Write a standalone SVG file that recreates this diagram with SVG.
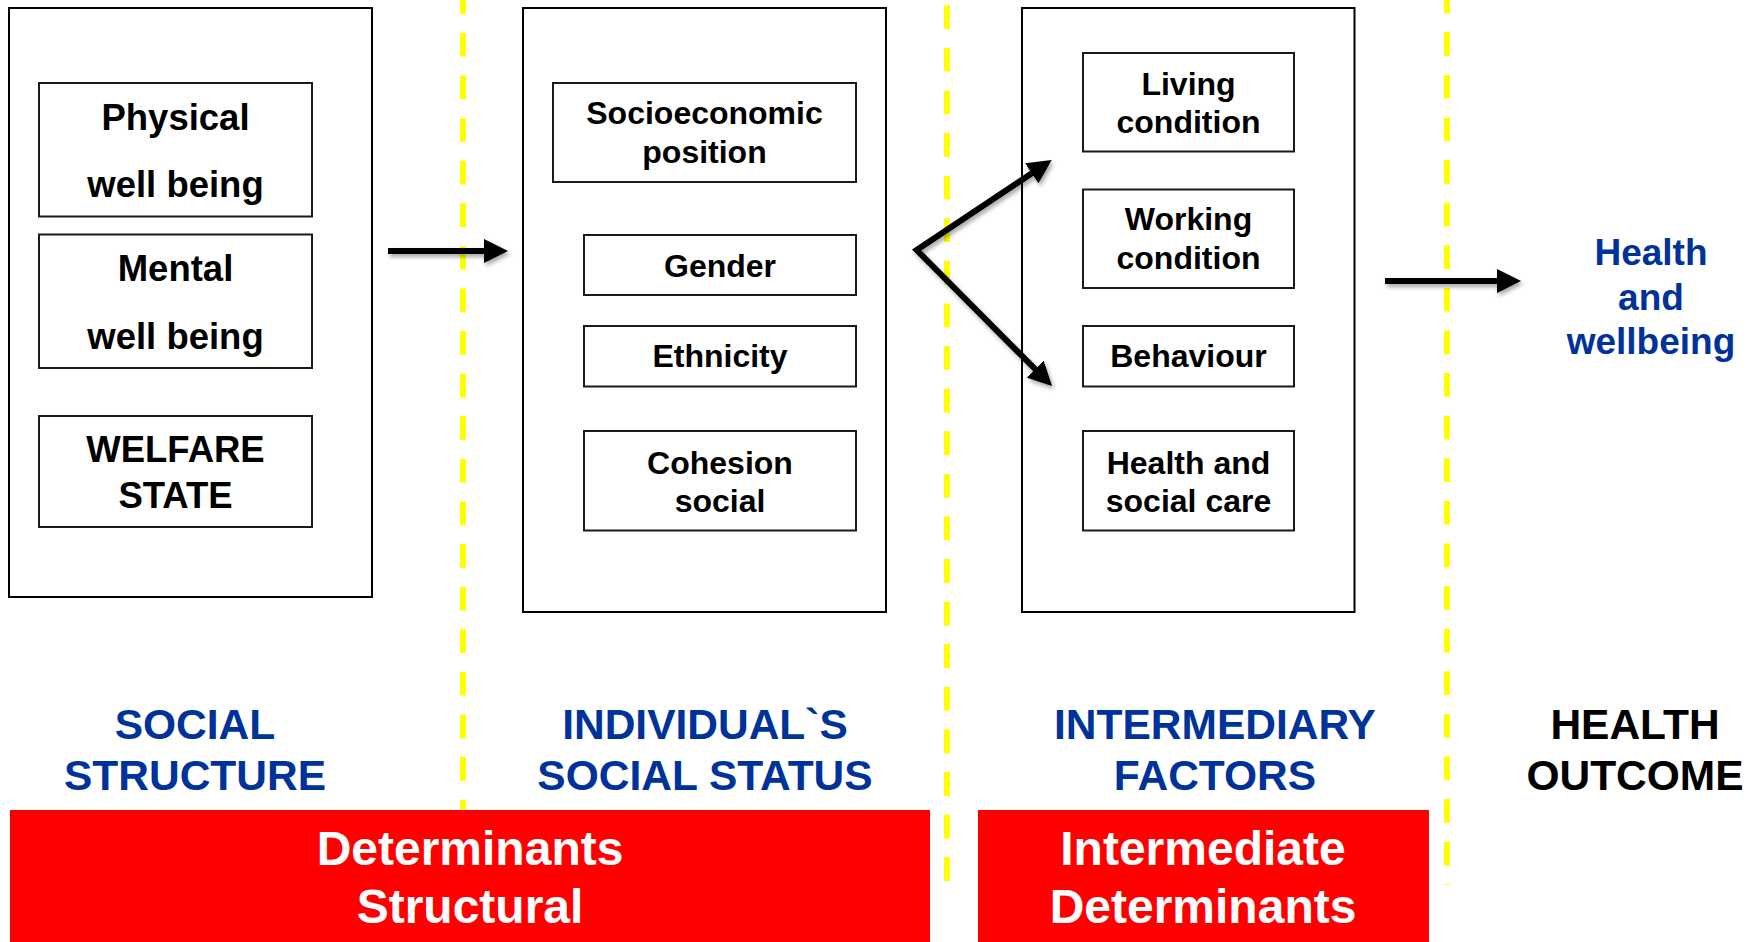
<svg xmlns="http://www.w3.org/2000/svg" width="1758" height="942" viewBox="0 0 1758 942">
<style>
.bg{fill:#ffffff}
.outer{fill:#ffffff;stroke:#000000;stroke-width:2}
.inner{fill:#ffffff;stroke:#1a1a1a;stroke-width:2}
.t{font-family:"Liberation Sans",Arial,sans-serif;font-weight:bold;text-anchor:middle;fill:#000000}
.t36{font-size:36.5px}
.t32{font-size:32px}
.lab{font-size:42.5px;fill:#003399}
.labk{font-size:42.5px;fill:#000000}
.out{font-size:37px;fill:#003399}
.red{fill:#ff0000}
.wt{font-size:48px;fill:#ffffff}
.yl{fill:none;stroke:#ffff00;stroke-width:6;stroke-dasharray:23.7 18.9}
.arr{fill:none;stroke:#000000;stroke-width:6;stroke-linejoin:miter;stroke-miterlimit:10}
</style>
<defs>
<marker id="ah" markerUnits="userSpaceOnUse" viewBox="0 0 24 24" refX="14" refY="12" markerWidth="24" markerHeight="24" orient="auto-start-reverse">
<path d="M0,0 L24,12 L0,24 z" fill="#000000"/>
</marker>
<filter id="sh" x="-20%" y="-20%" width="140%" height="160%">
<feDropShadow dx="2" dy="3" stdDeviation="2" flood-color="#000000" flood-opacity="0.35"/>
</filter>
</defs>
<rect class="bg" x="0" y="0" width="1758" height="942"/>

<g id="dividers">
<line class="yl" x1="463" y1="0" x2="463" y2="810" stroke-dashoffset="9.7"/>
<line class="yl" x1="947" y1="0" x2="947" y2="900" stroke-dashoffset="37.3"/>
<line class="yl" x1="1447" y1="0" x2="1447" y2="885" stroke-dashoffset="10.3"/>
</g>

<g id="social-structure">
<rect class="outer" x="9" y="8" width="363" height="589"/>
<g id="physical">
<rect class="inner" x="39" y="83" width="273" height="133.5"/>
<text class="t t36" x="175.5" y="130">Physical</text>
<text class="t t36" x="175.5" y="196.5">well being</text>
</g>
<g id="mental">
<rect class="inner" x="39" y="234.5" width="273" height="133.5"/>
<text class="t t36" x="175.5" y="280.5">Mental</text>
<text class="t t36" x="175.5" y="348.5">well being</text>
</g>
<g id="welfare">
<rect class="inner" x="39" y="416" width="273" height="111"/>
<text class="t t36" x="175.5" y="462">WELFARE</text>
<text class="t t36" x="175.5" y="507.5">STATE</text>
</g>
</g>

<g id="social-status">
<rect class="outer" x="523" y="8" width="363" height="604"/>
<g id="socioeconomic">
<rect class="inner" x="553" y="83" width="303" height="99"/>
<text class="t t32" x="704.5" y="124">Socioeconomic</text>
<text class="t t32" x="704.5" y="162.5">position</text>
</g>
<g id="gender">
<rect class="inner" x="584" y="235" width="272" height="60"/>
<text class="t t32" x="720" y="276.5">Gender</text>
</g>
<g id="ethnicity">
<rect class="inner" x="584" y="326" width="272" height="60.5"/>
<text class="t t32" x="720" y="367">Ethnicity</text>
</g>
<g id="cohesion">
<rect class="inner" x="584" y="431" width="272" height="99.5"/>
<text class="t t32" x="720" y="473.5">Cohesion</text>
<text class="t t32" x="720" y="511.5">social</text>
</g>
</g>

<g id="intermediary">
<rect class="outer" x="1022" y="8" width="332.5" height="604"/>
<g id="living">
<rect class="inner" x="1083" y="53" width="211" height="98.5"/>
<text class="t t32" x="1188.5" y="94.5">Living</text>
<text class="t t32" x="1188.5" y="132.5">condition</text>
</g>
<g id="working">
<rect class="inner" x="1083" y="189.5" width="211" height="98.5"/>
<text class="t t32" x="1188.5" y="230">Working</text>
<text class="t t32" x="1188.5" y="269">condition</text>
</g>
<g id="behaviour">
<rect class="inner" x="1083" y="326" width="211" height="60.5"/>
<text class="t t32" x="1188.5" y="367">Behaviour</text>
</g>
<g id="healthcare">
<rect class="inner" x="1083" y="431" width="211" height="99.5"/>
<text class="t t32" x="1188.5" y="473.5">Health and</text>
<text class="t t32" x="1188.5" y="511.5">social care</text>
</g>
</g>

<g id="outcome">
<text class="t out" x="1651" y="265">Health</text>
<text class="t out" x="1651" y="310">and</text>
<text class="t out" x="1651" y="354">wellbeing</text>
</g>

<g id="connectors" filter="url(#sh)">
<line class="arr" x1="388" y1="251" x2="498" y2="251" marker-end="url(#ah)"/>
<path class="arr" d="M1043.4,165.6 L916.7,250 L1045,379" marker-start="url(#ah)" marker-end="url(#ah)"/>
<line class="arr" x1="1385" y1="281" x2="1511" y2="281" marker-end="url(#ah)"/>
</g>

<g id="labels">
<g id="lab-social-structure">
<text class="t lab" x="195" y="739">SOCIAL</text>
<text class="t lab" x="195" y="790">STRUCTURE</text>
</g>
<g id="lab-social-status">
<text class="t lab" x="705" y="739">INDIVIDUAL`S</text>
<text class="t lab" x="705" y="790">SOCIAL STATUS</text>
</g>
<g id="lab-intermediary">
<text class="t lab" x="1215" y="739">INTERMEDIARY</text>
<text class="t lab" x="1215" y="790">FACTORS</text>
</g>
<g id="lab-outcome">
<text class="t labk" x="1635" y="739">HEALTH</text>
<text class="t labk" x="1635" y="790">OUTCOME</text>
</g>
</g>

<g id="structural-band">
<rect class="red" x="10" y="810" width="920" height="132"/>
<text class="t wt" x="470" y="865">Determinants</text>
<text class="t wt" x="470" y="923">Structural</text>
</g>
<g id="intermediate-band">
<rect class="red" x="978" y="810" width="451" height="132"/>
<text class="t wt" x="1203" y="865">Intermediate</text>
<text class="t wt" x="1203" y="923">Determinants</text>
</g>
</svg>
